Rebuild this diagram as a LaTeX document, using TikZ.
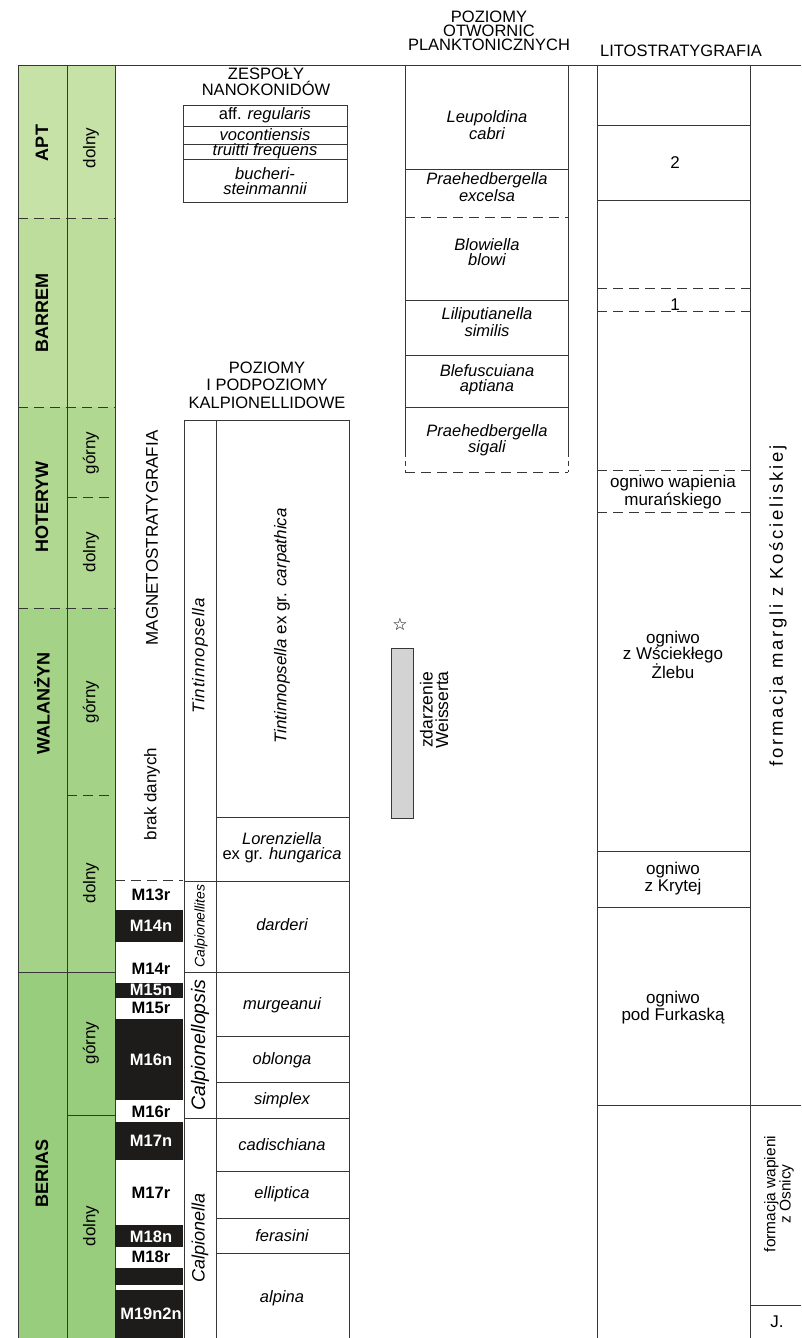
\documentclass[tikz,border=0pt]{standalone}
\usepackage{fontspec}
\setmainfont{Liberation Sans}
\newfontfamily\symbolfont{DejaVu Sans}
\definecolor{cApt}{RGB}{199,226,166}
\definecolor{cBar}{RGB}{188,221,155}
\definecolor{cHot}{RGB}{176,216,145}
\definecolor{cWal}{RGB}{164,211,135}
\definecolor{cBer}{RGB}{153,205,126}
\definecolor{rule}{RGB}{55,55,55}
\definecolor{rev}{RGB}{30,27,27}
\definecolor{barfill}{RGB}{211,211,211}
\newcommand\sz[2]{\fontsize{#1}{#2}\selectfont}
\tikzset{
  rl/.style={draw=rule, line width=0.9pt},
  drl/.style={rl, dash pattern=on 10pt off 6pt},
  txt/.style={inner sep=0pt, align=center, font=\sz{16.5}{15}},
  itx/.style={inner sep=0pt, align=center, font=\sz{16.5}{15}\itshape},
  stagelab/.style={inner sep=0pt, rotate=90, font=\sz{18}{18}\bfseries},
  sublab/.style={inner sep=0pt, rotate=90, font=\sz{17}{17}},
  chronlab/.style={inner sep=0pt, font=\sz{16.5}{16}\bfseries},
  hdr/.style={inner sep=0pt, align=center, font=\sz{16.5}{14}},
  revblock/.style={fill=rev},
}
\begin{document}
\begin{tikzpicture}[x=1pt,y=-1pt]
\useasboundingbox (0,0) rectangle (801,1338);

% ---------- chronostratigraphy: stages and substages ----------
\fill[cApt] (18,65) rectangle (115,218);
\fill[cBar] (18,218) rectangle (115,407);
\fill[cHot] (18,407) rectangle (115,608);
\fill[cWal] (18,608) rectangle (115,972);
\fill[cBer] (18,972) rectangle (115,1338);

\draw[rl] (18,65) -- (801,65);
\draw[rl] (18,65) -- (18,1338);
\draw[rl] (67,65) -- (67,1338);
\draw[rl] (115,65) -- (115,1338);
\draw[drl] (18,218) -- (115,218);
\draw[drl] (18,407) -- (115,407);
\draw[drl] (18,608) -- (115,608);
\draw[drl] (67,497) -- (115,497);
\draw[drl] (67,795) -- (115,795);
\draw[rl] (18,972) -- (115,972);
\draw[rl] (67,1115) -- (115,1115);

\node[stagelab] (apt) at (42,143) {APT};
\node[stagelab] (barrem) at (42,313) {BARREM};
\node[stagelab] (hoteryw) at (42,507) {HOTERYW};
\node[stagelab] (walanzyn) at (42,703) {WALANŻYN};
\node[stagelab] (berias) at (42,1173) {BERIAS};

\node[sublab] (aptD) at (91,148) {dolny};
\node[sublab] (hotG) at (91,453) {górny};
\node[sublab] (hotD) at (91,552) {dolny};
\node[sublab] (walG) at (91,702) {górny};
\node[sublab] (walD) at (91,883) {dolny};
\node[sublab] (berG) at (91,1043) {górny};
\node[sublab] (berD) at (91,1226) {dolny};

% ---------- magnetostratigraphy ----------
\node[inner sep=0pt, rotate=90, font=\sz{17}{17}] (magTitle) at (152,538) {MAGNETOSTRATYGRAFIA};
\node[inner sep=0pt, rotate=90, font=\sz{17}{17}] (noData) at (152,794) {brak danych};
\draw[drl] (115,880) -- (183,880);
\fill[revblock] (115,910) rectangle (183,942);
\fill[revblock] (115,983) rectangle (183,998);
\fill[revblock] (115,1019) rectangle (183,1100);
\fill[revblock] (115,1122) rectangle (183,1160);
\fill[revblock] (115,1225) rectangle (183,1247);
\fill[revblock] (115,1268) rectangle (183,1285);
\fill[revblock] (115,1290) rectangle (183,1338);
\node[chronlab] (m13r) at (151,895) {M13r};
\node[chronlab, text=white] (m14n) at (151,926) {M14n};
\node[chronlab] (m14r) at (151,969) {M14r};
\node[chronlab, text=white] (m15n) at (151,990) {M15n};
\node[chronlab] (m15r) at (151,1008) {M15r};
\node[chronlab, text=white] (m16n) at (151,1060) {M16n};
\node[chronlab] (m16r) at (151,1112) {M16r};
\node[chronlab, text=white] (m17n) at (151,1141) {M17n};
\node[chronlab] (m17r) at (151,1193) {M17r};
\node[chronlab, text=white] (m18n) at (151,1237) {M18n};
\node[chronlab] (m18r) at (151,1257) {M18r};
\node[chronlab, text=white] (m19) at (151,1314) {M19n2n};

% ---------- nannoconid assemblages ----------
\node[hdr, font=\sz{16.5}{16.5}] (nanHdr) at (266,82) {ZESPOŁY\\NANOKONIDÓW};
\draw[rl] (183,105) rectangle (347,202);
\draw[rl] (183,126) -- (347,126);
\draw[rl] (183,144) -- (347,144);
\draw[rl] (183,159) -- (347,159);
\node[txt] (nReg) at (265,115) {aff. \textit{regularis}};
\node[itx] (nVoc) at (265,135) {vocontiensis};
\node[itx] (nTru) at (265,151) {truitti frequens};
\node[itx] (nBuc) at (265,181) {bucheri-\\steinmannii};

% ---------- calpionellid zones and subzones ----------
\node[hdr, font=\sz{16.5}{17.5}] (calHdr) at (267,385) {POZIOMY\\I PODPOZIOMY\\KALPIONELLIDOWE};
\draw[rl] (184,1338) -- (184,420) -- (349,420) -- (349,1338);
\draw[rl] (216,420) -- (216,1338);
\draw[rl] (216,817) -- (349,817);
\draw[rl] (184,881) -- (349,881);
\draw[rl] (184,972) -- (349,972);
\draw[rl] (216,1036) -- (349,1036);
\draw[rl] (216,1082) -- (349,1082);
\draw[rl] (184,1118) -- (349,1118);
\draw[rl] (216,1171) -- (349,1171);
\draw[rl] (216,1218) -- (349,1218);
\draw[rl] (216,1253) -- (349,1253);

\node[inner sep=0pt, rotate=90, font=\sz{17}{17}\itshape\addfontfeature{LetterSpace=5}] (gTin) at (200,656) {Tintinnopsella};
\node[inner sep=0pt, rotate=90, font=\sz{14}{14}\itshape] (gCites) at (201,926) {Calpionellites};
\node[inner sep=0pt, rotate=90, font=\sz{19.5}{19.5}\itshape] (gCopsis) at (200,1045) {Calpionellopsis};
\node[inner sep=0pt, rotate=90, font=\sz{18}{18}\itshape] (gCella) at (200,1238) {Calpionella};

\node[inner sep=0pt, rotate=90, font=\sz{17}{17}] (sCarp) at (282,626) {\textit{Tintinnopsella} ex gr. \textit{carpathica}};
\node[txt] (sLor) at (282,848) {\textit{Lorenziella}\\ex gr. \textit{hungarica}};
\node[itx] (sDar) at (282,925) {darderi};
\node[itx] (sMur) at (282,1005) {murgeanui};
\node[itx] (sObl) at (282,1060) {oblonga};
\node[itx] (sSim) at (282,1100) {simplex};
\node[itx] (sCad) at (282,1145) {cadischiana};
\node[itx] (sEll) at (282,1194) {elliptica};
\node[itx] (sFer) at (282,1236) {ferasini};
\node[itx] (sAlp) at (282,1298) {alpina};

% ---------- Weissert event ----------
\node[inner sep=0pt, font=\symbolfont\sz{17}{17}] (star) at (400,624) {☆};
\draw[draw=rule, line width=0.9pt, fill=barfill] (391,648) rectangle (413,818);
\node[inner sep=0pt, rotate=90, align=center, font=\sz{17.5}{15.5}] (weissert) at (434,710) {zdarzenie\\Weisserta};

% ---------- planktonic foraminifera zones ----------
\node[hdr] (forHdr) at (489,31) {POZIOMY\\OTWORNIC\\PLANKTONICZNYCH};
\draw[rl] (405,65) -- (405,452);
\draw[rl] (568,65) -- (568,452);
\draw[drl, dash pattern=on 5pt off 4pt] (405,452) -- (405,472);
\draw[drl, dash pattern=on 5pt off 4pt] (568,452) -- (568,472);
\draw[rl] (405,169) -- (568,169);
\draw[drl] (405,217) -- (568,217);
\draw[rl] (405,300) -- (568,300);
\draw[rl] (405,355) -- (568,355);
\draw[rl] (405,407) -- (568,407);
\draw[drl] (405,472) -- (568,472);
\node[itx] (fLeu) at (487,125) {Leupoldina\\cabri};
\node[itx] (fExc) at (487,187) {Praehedbergella\\excelsa};
\node[itx] (fBlo) at (487,252) {Blowiella\\blowi};
\node[itx] (fLil) at (487,322) {Liliputianella\\similis};
\node[itx] (fBle) at (487,380) {Blefuscuiana\\aptiana};
\node[itx] (fSig) at (487,440) {Praehedbergella\\sigali};

% ---------- lithostratigraphy ----------
\node[hdr] (litHdr) at (681,51) {LITOSTRATYGRAFIA};
\draw[rl] (597,65) -- (597,1338);
\draw[rl] (750,65) -- (750,1338);
\draw[rl] (597,125) -- (750,125);
\draw[rl] (597,200) -- (750,200);
\draw[drl] (597,288) -- (750,288);
\draw[drl] (597,311) -- (750,311);
\draw[drl] (597,470) -- (750,470);
\draw[drl] (597,512) -- (750,512);
\draw[rl] (597,851) -- (750,851);
\draw[rl] (597,907) -- (750,907);
\draw[rl] (597,1105) -- (801,1105);
\draw[rl] (750,1305) -- (801,1305);
\node[txt, font=\sz{17}{17}] (unit2) at (675,163) {2};
\node[txt, font=\sz{17}{17}, anchor=base] (unit1) at (675,310) {1};
\node[txt, font=\sz{17}{17.5}] (mur) at (673,492) {ogniwo wapienia\\murańskiego};
\node[txt, font=\sz{17}{16.5}] (wsc) at (673,655) {ogniwo\\z Wściekłego\\Żlebu};
\node[txt, font=\sz{17}{17}] (kry) at (673,879) {ogniwo\\z Krytej};
\node[txt, font=\sz{17}{17}] (fur) at (673,1008) {ogniwo\\pod Furkaską};

\node[inner sep=0pt, rotate=90, font=\sz{18.5}{18.5}\addfontfeature{LetterSpace=15}] (fmKos) at (778,606) {formacja margli z Kościeliskiej};
\node[inner sep=0pt, rotate=90, align=center, font=\sz{15.5}{13.5}] (fmOsn) at (779,1194) {formacja wapieni\\z Osnicy};
\node[inner sep=0pt, font=\sz{17}{17}] (jur) at (777,1322) {J.};
\end{tikzpicture}
\end{document}
